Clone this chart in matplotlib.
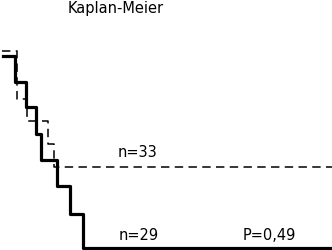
import matplotlib
matplotlib.use("Agg")
import matplotlib.pyplot as plt

# Kaplan-Meier curves (time in arbitrary units, survival as fraction)
solid_t = [0.9, 4.5, 7.8, 10.8, 12.3, 17.2, 21.1, 25.0, 100]
solid_s = [0.975, 0.843, 0.716, 0.579, 0.447, 0.315, 0.173, 0.0, 0.0]

dashed_t = [0.6, 5.1, 8.1, 14.5, 16.3, 100]
dashed_s = [1.0, 0.756, 0.645, 0.528, 0.411, 0.411]

title = "Kaplan-Meier"
label_dashed = "n=33"
label_solid = "n=29"
p_text = "P=0,49"

plt.rcParams['font.family'] = ['DejaVu Sans']

fig = plt.figure(figsize=(3.32, 2.51), dpi=100)
ax = fig.add_axes([0, 0, 1, 1])

ax.step(dashed_t, dashed_s, where='post', color='black', linewidth=1.1,
        dashes=(5.5, 3.5))
ax.step(solid_t, solid_s, where='post', color='black', linewidth=2.3)

ax.set_xlim(0, 100)
ax.set_ylim(-0.0102, 1.264)
ax.axis('off')

ax.text(20.3, 1.196, title, fontsize=10.5, ha='left', va='baseline')
ax.text(35.3, 0.465, label_dashed, fontsize=10.5, ha='left', va='baseline')
ax.text(35.6, 0.046, label_solid, fontsize=10.5, ha='left', va='baseline')
ax.text(73.0, 0.046, p_text, fontsize=10.5, ha='left', va='baseline')

fig.savefig("out.png", dpi=100)
